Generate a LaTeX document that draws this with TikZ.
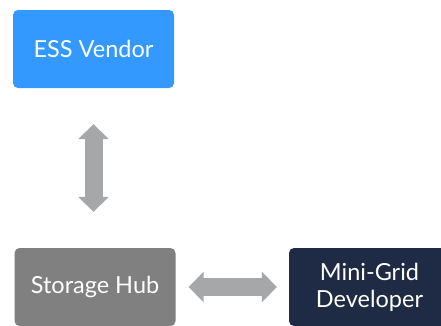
\documentclass[tikz,border=0pt]{standalone}
\usepackage{fontspec}
\setmainfont{Lato}
\usetikzlibrary{arrows.meta,positioning}
\definecolor{essblue}{RGB}{51,153,255}
\definecolor{hubgray}{RGB}{128,128,128}
\definecolor{gridnavy}{RGB}{31,42,68}
\definecolor{arrowgray}{RGB}{166,167,169}
\tikzset{
  box/.style={rounded corners=5pt,minimum width=161pt,minimum height=78pt,
    text=white,align=center,font=\fontsize{23.5}{27}\selectfont},
  link/.style={arrowgray,line width=18pt,
    {Triangle[length=15pt,width=30pt]}-{Triangle[length=15pt,width=30pt]}}
}

\begin{document}
\begin{tikzpicture}[x=1pt,y=-1pt]
            \clip (0,0) rectangle (441,325);
            \fill[white] (0,0) rectangle (441,325);
            \node[box,fill=essblue] (ess) at (93.5,49) {ESS Vendor};
            \node[box,fill=hubgray] (hub) at (95,287) {Storage Hub};
            \node[box,fill=gridnavy] (grid) at (369.5,287) {Mini-Grid\\Developer};
            \draw[link,shorten <=36pt,shorten >=36pt] (ess.south) -- (ess.south |- hub.north);
            \draw[link,shorten <=13pt,shorten >=12pt] (hub) -- (grid);
        \end{tikzpicture}
\end{document}
